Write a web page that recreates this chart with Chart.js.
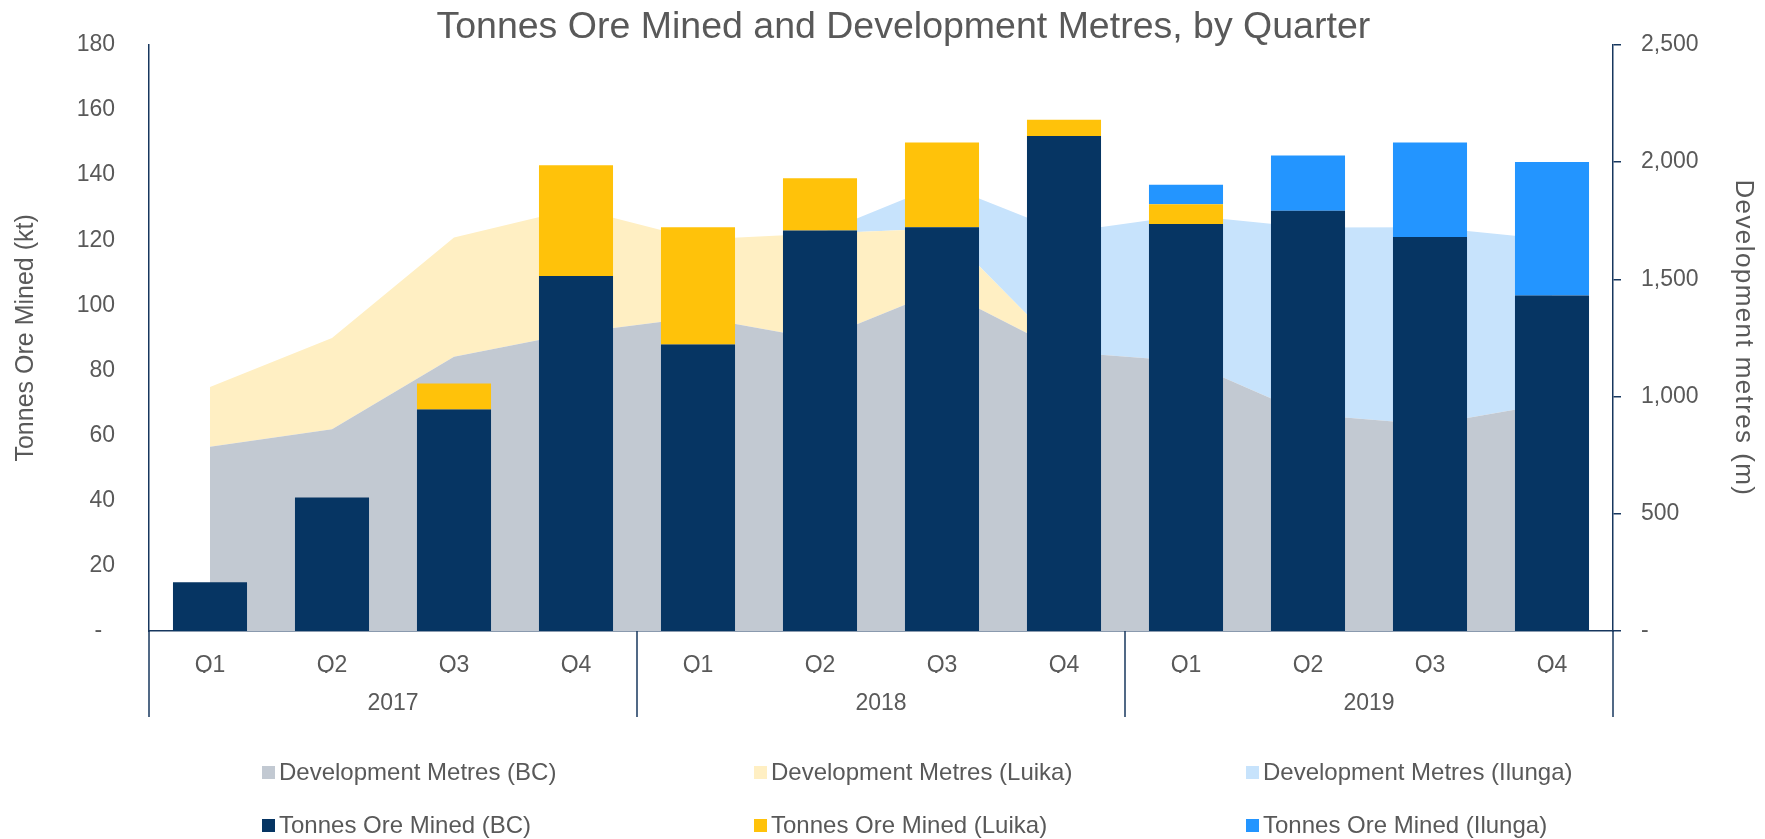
<!DOCTYPE html>
<html>
<head>
<meta charset="utf-8">
<title>Tonnes Ore Mined and Development Metres, by Quarter</title>
<script src="https://cdn.jsdelivr.net/npm/chart.js@4.4.1/dist/chart.umd.min.js"></script>
<style>
    html, body { margin: 0; padding: 0; background: #ffffff; }
    #wrap { position: relative; width: 1765px; height: 839px; }
    #oreChart { position: absolute; left: 0; top: 0; }
    .legend-item {
        position: absolute;
        display: flex;
        align-items: center;
        transform: translateY(-50%);
        font-family: 'Liberation Sans', Arial, sans-serif;
        font-size: 24px;
        color: #595959;
        white-space: nowrap;
    }
    .legend-item .box { width: 13px; height: 13px; margin-right: 4px; }
</style>
</head>
<body>
<div id="wrap">
    <canvas id="oreChart" width="1765" height="839"></canvas>
    <div id="legend"></div>
</div>
<script>
// data
const quarterLabels = ['Q1', 'Q2', 'Q3', 'Q4', 'Q1', 'Q2', 'Q3', 'Q4', 'Q1', 'Q2', 'Q3', 'Q4'];
const years = ['2017', '2018', '2019'];

const tonnesBC     = [15, 41, 68, 109, 88, 123, 124, 152, 125, 129, 121, 103];
const tonnesLuika  = [0, 0, 8, 34, 36, 16, 26, 5, 6, 0, 0, 0];
const tonnesIlunga = [0, 0, 0, 0, 0, 0, 0, 0, 6, 17, 29, 41];

const devBC     = [786, 860, 1170, 1272, 1338, 1244, 1455, 1190, 1150, 923, 881, 971];
const devLuika  = [254, 390, 508, 531, 331, 451, 261, 0, 0, 0, 0, 0];
const devIlunga = [0, 0, 0, 0, 0, 0, 191, 510, 623, 798, 841, 698];

const leftTicks  = { min: 0, max: 180, step: 20 };
const rightTicks = { min: 0, max: 2500, step: 500 };

const textColor = '#595959';
const axisColor = '#17375E';
const fontFamily = "'Liberation Sans', Arial, sans-serif";

Chart.defaults.font.family = fontFamily;
Chart.defaults.color = textColor;

// year row under the quarters, dividers between years, and the right axis title
const extras = {
    id: 'extras',
    afterDraw(chart) {
        const x = chart.scales.x;
        const y1 = chart.scales.y1;
        const area = chart.chartArea;
        const c = chart.ctx;
        const top = area.bottom;
        const half = (x.getPixelForValue(1) - x.getPixelForValue(0)) / 2;

        c.save();
        c.strokeStyle = axisColor;
        c.lineWidth = 1.5;
        for (let i = 0; i <= quarterLabels.length; i += 4) {
            const px = i < quarterLabels.length ? x.getPixelForValue(i) - half : x.getPixelForValue(i - 1) + half;
            c.beginPath();
            c.moveTo(px, top);
            c.lineTo(px, top + 86);
            c.stroke();
        }
        c.font = '23px ' + fontFamily;
        c.fillStyle = textColor;
        c.textAlign = 'center';
        c.textBaseline = 'middle';
        years.forEach((yr, k) => {
            const mid = (x.getPixelForValue(k * 4) + x.getPixelForValue(k * 4 + 3)) / 2;
            c.fillText(yr, mid, top + 73);
        });
        c.restore();

        // right title is tracked a little wider than the left one
        c.save();
        c.translate(y1.right - 22, (area.top + area.bottom) / 2);
        c.rotate(Math.PI / 2);
        c.font = '26px ' + fontFamily;
        c.letterSpacing = '1.4px';
        c.fillStyle = textColor;
        c.textAlign = 'center';
        c.textBaseline = 'middle';
        c.fillText('Development metres (m)', 0, 0);
        c.restore();
    }
};

const areaSet = (label, data, color, fill) => ({
    type: 'line',
    label: label,
    data: data,
    yAxisID: 'y1',
    stack: 'dev',
    backgroundColor: color,
    borderWidth: 0,
    pointRadius: 0,
    tension: 0,
    fill: fill,
    order: 2
});

const barSet = (label, data, color) => ({
    type: 'bar',
    label: label,
    data: data,
    yAxisID: 'y',
    stack: 'ore',
    backgroundColor: color,
    borderWidth: 0,
    barPercentage: 0.607,
    categoryPercentage: 1,
    order: 1
});

const datasets = [
    areaSet('Development Metres (BC)', devBC, '#C2C9D2', 'origin'),
    areaSet('Development Metres (Luika)', devLuika, '#FFEFC3', '-1'),
    areaSet('Development Metres (Ilunga)', devIlunga, '#C7E3FC', '-1'),
    barSet('Tonnes Ore Mined (BC)', tonnesBC, '#063563'),
    barSet('Tonnes Ore Mined (Luika)', tonnesLuika, '#FFC20A'),
    barSet('Tonnes Ore Mined (Ilunga)', tonnesIlunga, '#2395FF')
];

const ctx = document.getElementById('oreChart');

new Chart(ctx, {
    data: { labels: quarterLabels, datasets: datasets },
    options: {
        responsive: false,
        animation: false,
        layout: { padding: { left: 0, right: 0, top: 0, bottom: 166 } },
        plugins: {
            legend: { display: false },
            tooltip: { enabled: false },
            title: {
                display: true,
                text: '    Tonnes Ore Mined and Development Metres, by Quarter',
                color: textColor,
                font: { size: 37.5, weight: 'normal', lineHeight: 0.9 },
                padding: { top: 11, bottom: 0 }
            }
        },
        scales: {
            x: {
                stacked: true,
                grid: { display: false },
                border: { color: axisColor, width: 1.5 },
                ticks: { font: { size: 23 }, padding: 13, maxRotation: 0, autoSkip: false },
                afterFit: s => { s.height = 42; }
            },
            y: {
                position: 'left',
                stacked: true,
                min: leftTicks.min,
                max: leftTicks.max,
                grid: { display: false },
                border: { color: axisColor, width: 1.5 },
                ticks: {
                    stepSize: leftTicks.step,
                    padding: 26,
                    font: { size: 23 },
                    callback: v => v === 0 ? '-  ' : v
                },
                title: {
                    display: true,
                    text: 'Tonnes Ore Mined (kt)',
                    color: textColor,
                    font: { size: 25 },
                    padding: { top: 11, bottom: 0 }
                },
                afterFit: s => { s.width = 149; }
            },
            y1: {
                position: 'right',
                stacked: true,
                min: rightTicks.min,
                max: rightTicks.max,
                grid: { drawOnChartArea: false, drawTicks: true, tickLength: 8, color: axisColor, lineWidth: 1.5 },
                border: { color: axisColor, width: 1.5 },
                ticks: {
                    stepSize: rightTicks.step,
                    padding: 20,
                    font: { size: 23 },
                    callback: v => v === 0 ? '-' : v.toLocaleString('en-US')
                },
                afterFit: s => { s.width = 152; }
            }
        }
    },
    plugins: [extras]
});

// legend: two rows of three, as in the reference
const legendBox = document.getElementById('legend');
const legendCols = [262, 754, 1246];
const legendRows = [772, 825];
datasets.forEach((ds, i) => {
    const item = document.createElement('div');
    item.className = 'legend-item';
    item.style.left = legendCols[i % 3] + 'px';
    item.style.top = legendRows[Math.floor(i / 3)] + 'px';
    const box = document.createElement('span');
    box.className = 'box';
    box.style.background = ds.backgroundColor;
    const txt = document.createElement('span');
    txt.textContent = ds.label;
    item.appendChild(box);
    item.appendChild(txt);
    legendBox.appendChild(item);
});
</script>
</body>
</html>
